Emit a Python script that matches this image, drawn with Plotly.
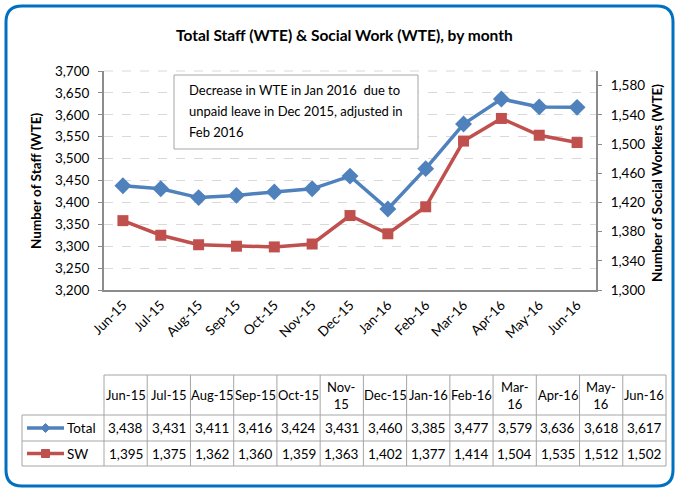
import plotly.graph_objects as go

months = ["Jun-15", "Jul-15", "Aug-15", "Sep-15", "Oct-15", "Nov-15", "Dec-15",
          "Jan-16", "Feb-16", "Mar-16", "Apr-16", "May-16", "Jun-16"]
header_labels = ["Jun-15", "Jul-15", "Aug-15", "Sep-15", "Oct-15", "Nov-<br>15", "Dec-15",
                 "Jan-16", "Feb-16", "Mar-<br>16", "Apr-16", "May-<br>16", "Jun-16"]
total = [3438, 3431, 3411, 3416, 3424, 3431, 3460, 3385, 3477, 3579, 3636, 3618, 3617]
sw = [1395, 1375, 1362, 1360, 1359, 1363, 1402, 1377, 1414, 1504, 1535, 1512, 1502]
left_ticks = list(range(3200, 3701, 50))
right_ticks = list(range(1300, 1581, 40))

W, H = 679, 491
FONT = "Lato, Carlito, Calibri, sans-serif"
BLUE = "#4F81BD"
RED = "#C0504D"
GRID = "#D9D9D9"
AX = "#8C8C8C"
TB = "#A6A6A6"
FS = 13
TICKFS = 13.5

def px(x):
    return x / W

def py(y):
    return 1 - y / H

PL, PR, PT, PB = 104, 596, 71, 290

fig = go.Figure()
fig.add_trace(go.Scatter(x=months, y=total, name="Total", mode="lines+markers",
                         line=dict(color=BLUE, width=3.5),
                         marker=dict(symbol="diamond", size=13, color=BLUE),
                         yaxis="y"))
fig.add_trace(go.Scatter(x=months, y=sw, name="SW", mode="lines+markers",
                         line=dict(color=RED, width=3.5),
                         marker=dict(symbol="square", size=11, color=RED),
                         yaxis="y2"))

shapes = []
annotations = []

def ann(text, x, y, size=FS, xanchor="center", **kw):
    d = dict(text=text, x=px(x), y=py(y), xref="paper", yref="paper", showarrow=False,
             xanchor=xanchor, yanchor="middle",
             font=dict(family=FONT, size=size, color="#000"))
    d.update(kw)
    annotations.append(d)

# outer rounded frame
r = 16
x0, y0, x1, y1 = 6, 6, 673, 486
path = (f"M {px(x0+r)},{py(y0)} L {px(x1-r)},{py(y0)} Q {px(x1)},{py(y0)} {px(x1)},{py(y0+r)} "
        f"L {px(x1)},{py(y1-r)} Q {px(x1)},{py(y1)} {px(x1-r)},{py(y1)} "
        f"L {px(x0+r)},{py(y1)} Q {px(x0)},{py(y1)} {px(x0)},{py(y1-r)} "
        f"L {px(x0)},{py(y0+r)} Q {px(x0)},{py(y0)} {px(x0+r)},{py(y0)} Z")
shapes.append(dict(type="path", xref="paper", yref="paper", path=path,
                   line=dict(color="#0070C0", width=3), layer="below"))

# top dashed gridline
shapes.append(dict(type="line", xref="paper", yref="paper", x0=px(PL), x1=px(PR),
                   y0=py(PT), y1=py(PT), line=dict(color=GRID, width=1, dash="dash"), layer="below"))

# title and axis titles
ann("<b>Total Staff (WTE) & Social Work (WTE), by month</b>", 344, 35, size=15.5)
ann("<b>Number of Staff (WTE)</b>", 36, 181, size=13.5, textangle=-90)
ann("<b>Number of Social Workers (WTE)</b>", 657, 183, size=13.5, textangle=-90)

# note box
shapes.append(dict(type="rect", xref="paper", yref="paper", x0=px(174), x1=px(418),
                   y0=py(75), y1=py(149), fillcolor="white", line=dict(color="#A6A6A6", width=1)))
note_lines = ["Decrease in WTE in Jan 2016  due to", "unpaid leave in Dec 2015, adjusted in", "Feb 2016"]
for i, t in enumerate(note_lines):
    ann(t, 187, 90 + 21 * i, size=13, xanchor="left")

# data table
n = len(months)
c0, c1 = 104, 666
edges = [c0 + i * (c1 - c0) / n for i in range(n + 1)]
rt, rh, r1, r2 = 375, 415, 441, 466
lx = 22
line = dict(color=TB, width=1)
shapes.append(dict(type="line", xref="paper", yref="paper", x0=px(c0), x1=px(c1), y0=py(rt), y1=py(rt), line=line))
for yy in (rh, r1, r2):
    shapes.append(dict(type="line", xref="paper", yref="paper", x0=px(lx), x1=px(c1), y0=py(yy), y1=py(yy), line=line))
shapes.append(dict(type="line", xref="paper", yref="paper", x0=px(lx), x1=px(lx), y0=py(rh), y1=py(r2), line=line))
for e in edges:
    shapes.append(dict(type="line", xref="paper", yref="paper", x0=px(e), x1=px(e), y0=py(rt), y1=py(r2), line=line))

for i in range(n):
    cx = (edges[i] + edges[i + 1]) / 2
    ann(header_labels[i], cx, (rt + rh) / 2, size=13)
    ann(f"{total[i]:,}", cx, (rh + r1) / 2, size=13.5)
    ann(f"{sw[i]:,}", cx, (r1 + r2) / 2, size=13.5)

# legend keys in table
for name, color, ycen, sym in (("Total", BLUE, (rh + r1) / 2, "diamond"), ("SW", RED, (r1 + r2) / 2, "square")):
    shapes.append(dict(type="line", xref="paper", yref="paper", x0=px(27), x1=px(64), y0=py(ycen), y1=py(ycen),
                       line=dict(color=color, width=3.5)))
    cx = 45.5
    if sym == "diamond":
        s = 4.5
        p = (f"M {px(cx)},{py(ycen-s)} L {px(cx+s)},{py(ycen)} L {px(cx)},{py(ycen+s)} "
             f"L {px(cx-s)},{py(ycen)} Z")
    else:
        s = 4
        p = (f"M {px(cx-s)},{py(ycen-s)} L {px(cx+s)},{py(ycen-s)} L {px(cx+s)},{py(ycen+s)} "
             f"L {px(cx-s)},{py(ycen+s)} Z")
    shapes.append(dict(type="path", xref="paper", yref="paper", path=p, fillcolor=color,
                       line=dict(color=color, width=1)))
    ann(name, 65, ycen, size=13.5, xanchor="left")

fig.update_layout(
    width=W, height=H,
    margin=dict(l=0, r=0, t=0, b=0, autoexpand=False),
    paper_bgcolor="white", plot_bgcolor="rgba(0,0,0,0)",
    showlegend=False,
    font=dict(family=FONT, size=FS, color="#000"),
    xaxis=dict(domain=[px(PL), px(PR)], type="category", range=[-0.5, n - 0.5],
               tickangle=-45, showline=True, linecolor=AX, linewidth=2, automargin=False,
               showgrid=False, ticks="", tickfont=dict(family=FONT, size=TICKFS)),
    yaxis=dict(domain=[py(PB), py(PT)], range=[3200, 3700], tickvals=left_ticks,
               tickformat=",d", showline=True, linecolor=AX, linewidth=2, automargin=False,
               showgrid=True, gridcolor=GRID, griddash="dash", gridwidth=1,
               ticks="outside", ticklen=4, tickcolor=AX, ticklabelstandoff=6,
               zeroline=False, tickfont=dict(family=FONT, size=TICKFS)),
    yaxis2=dict(overlaying="y", side="right", anchor="x", range=[1300, 1600], tickvals=right_ticks,
                tickformat=",d", showline=True, linecolor=AX, linewidth=2, showgrid=False, automargin=False,
                ticks="outside", ticklen=4, tickcolor=AX, ticklabelstandoff=6,
                zeroline=False, tickfont=dict(family=FONT, size=TICKFS)),
    shapes=shapes,
    annotations=annotations,
)

fig.write_html("out.html", config={"displayModeBar": False},
               post_script="document.body.style.margin='0';")
